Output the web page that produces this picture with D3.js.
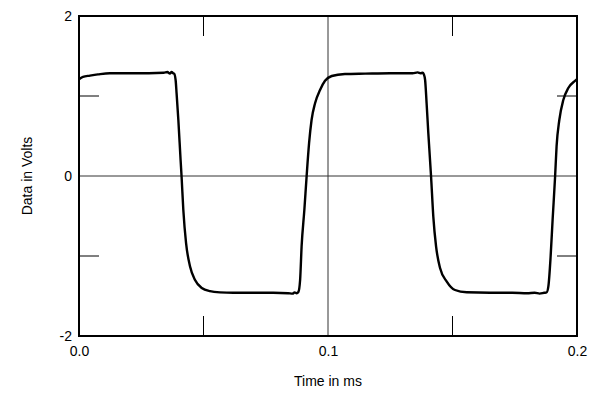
<!DOCTYPE html>
<html>
<head>
<meta charset="utf-8">
<script src="https://cdn.jsdelivr.net/npm/d3@7"></script>
<style>
  body { margin: 0; background: #fff; }
  svg text { font-family: "Liberation Sans", Arial, Helvetica, sans-serif; font-size: 14px; fill: #000; }
</style>
</head>
<body>
<svg id="chart" width="600" height="400"></svg>
<script>
// waveform (time in ms, data in volts)
var timeMs = [
  0.0000, 0.0016, 0.0044, 0.0076, 0.0124, 0.0200, 0.0280, 0.0340, 0.0355, 0.0365,
  0.0372, 0.0378, 0.0382, 0.0388, 0.0392, 0.0399, 0.0408, 0.0412, 0.0419, 0.0430,
  0.0446, 0.0466, 0.0493, 0.0526, 0.0566, 0.0620, 0.0700, 0.0780, 0.0840, 0.0858,
  0.0866, 0.0874, 0.0881, 0.0888, 0.0894, 0.0905, 0.0914, 0.0924, 0.0934, 0.0948,
  0.0968, 0.0988, 0.1015, 0.1068, 0.1149, 0.1250, 0.1340, 0.1360, 0.1372, 0.1380,
  0.1385, 0.1390, 0.1396, 0.1403, 0.1414, 0.1423, 0.1434, 0.1450, 0.1477, 0.1510,
  0.1557, 0.1651, 0.1740, 0.1800, 0.1830, 0.1850, 0.1868, 0.1878, 0.1885, 0.1894,
  0.1902, 0.1912, 0.1918, 0.1929, 0.1945, 0.1965, 0.1992, 0.2000
];
var volts = [
  1.21, 1.24, 1.255, 1.27, 1.285, 1.285, 1.285, 1.29, 1.30, 1.28,
  1.30, 1.285, 1.28, 1.20, 1.03, 0.70, 0.20, -0.01, -0.425, -0.84,
  -1.13, -1.30, -1.40, -1.44, -1.455, -1.46, -1.46, -1.46, -1.465, -1.47,
  -1.455, -1.465, -1.45, -1.30, -0.88, -0.425, -0.01, 0.41, 0.70, 0.91,
  1.075, 1.19, 1.25, 1.275, 1.28, 1.285, 1.285, 1.295, 1.285, 1.29,
  1.27, 1.20, 0.91, 0.53, -0.01, -0.51, -0.88, -1.15, -1.32, -1.425,
  -1.454, -1.46, -1.46, -1.465, -1.46, -1.47, -1.46, -1.455, -1.38, -1.01,
  -0.55, -0.01, 0.37, 0.70, 0.95, 1.10, 1.19, 1.21
];

var xTickValues = [0.0, 0.1, 0.2];
var xTickLabels = ['0.0', '0.1', '0.2'];
var yTickValues = [-2, 0, 2];
var yTickLabels = ['-2', '0', '2'];
var xMinor = [0.05, 0.15];
var yMinor = [-1, 1];

var margin = { top: 16, right: 23, bottom: 64, left: 79 };
var width = 600 - margin.left - margin.right;
var height = 400 - margin.top - margin.bottom;

var svg = d3.select('#chart');
var g = svg.append('g')
  .attr('transform', 'translate(' + margin.left + ',' + margin.top + ')');

var x = d3.scaleLinear().domain([0, 0.2]).range([0, width]);
var y = d3.scaleLinear().domain([-2, 2]).range([height, 0]);

/**
 * grid cross through the middle
 */
g.append('line')
  .attr('x1', 0).attr('x2', width)
  .attr('y1', y(0)).attr('y2', y(0))
  .attr('stroke', '#333').attr('stroke-width', 1);

g.append('line')
  .attr('x1', x(0.1)).attr('x2', x(0.1))
  .attr('y1', 0).attr('y2', height)
  .attr('stroke', '#333').attr('stroke-width', 1);

// short inner ticks on every side
var tickLen = 20;
xMinor.forEach(function (t) {
  g.append('line')
    .attr('x1', x(t)).attr('x2', x(t))
    .attr('y1', height).attr('y2', height - tickLen)
    .attr('stroke', '#000').attr('stroke-width', 1);
  g.append('line')
    .attr('x1', x(t)).attr('x2', x(t))
    .attr('y1', 0).attr('y2', tickLen)
    .attr('stroke', '#000').attr('stroke-width', 1);
});
yMinor.forEach(function (v) {
  g.append('line')
    .attr('x1', 0).attr('x2', tickLen)
    .attr('y1', y(v)).attr('y2', y(v))
    .attr('stroke', '#000').attr('stroke-width', 1);
  g.append('line')
    .attr('x1', width).attr('x2', width - tickLen)
    .attr('y1', y(v)).attr('y2', y(v))
    .attr('stroke', '#000').attr('stroke-width', 1);
});

// trace
var points = timeMs.map(function (t, i) { return [t, volts[i]]; });

g.append('clipPath').attr('id', 'plot-clip')
  .append('rect').attr('width', width).attr('height', height);

g.append('path')
  .datum(points)
  .attr('clip-path', 'url(#plot-clip)')
  .attr('fill', 'none')
  .attr('stroke', '#000')
  .attr('stroke-width', 2.4)
  .attr('stroke-linejoin', 'round')
  .attr('d', d3.line()
    .x(function (d) { return x(d[0]); })
    .y(function (d) { return y(d[1]); })
    .curve(d3.curveMonotoneX));

// frame
g.append('rect')
  .attr('width', width).attr('height', height)
  .attr('fill', 'none')
  .attr('stroke', '#000')
  .attr('stroke-width', 2);

// axes (labels only, frame drawn above)
var xAxis = g.append('g')
  .attr('transform', 'translate(0,' + height + ')')
  .call(d3.axisBottom(x)
    .tickValues(xTickValues)
    .tickSize(0)
    .tickPadding(10)
    .tickFormat(function (d, i) { return xTickLabels[i]; }));
xAxis.select('.domain').remove();

var yAxis = g.append('g')
  .call(d3.axisLeft(y)
    .tickValues(yTickValues)
    .tickSize(0)
    .tickPadding(7)
    .tickFormat(function (d, i) { return yTickLabels[i]; }));
yAxis.select('.domain').remove();

svg.selectAll('.tick text')
  .style('font-size', '14px')
  .style('font-family', '"Liberation Sans", Arial, Helvetica, sans-serif');

// titles
svg.append('text')
  .attr('x', margin.left + x(0.1))
  .attr('y', 386)
  .attr('text-anchor', 'middle')
  .text('Time in ms');

svg.append('text')
  .attr('transform', 'translate(32,' + (margin.top + y(0)) + ') rotate(-90)')
  .attr('text-anchor', 'middle')
  .text('Data in Volts');
</script>
</body>
</html>
